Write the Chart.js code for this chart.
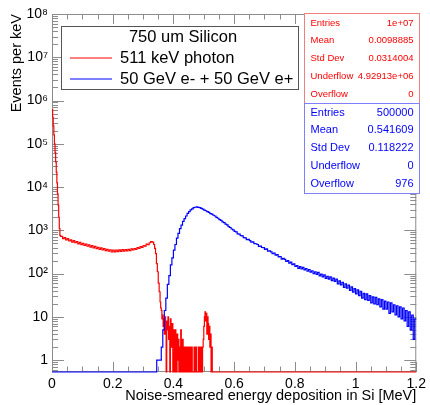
<!DOCTYPE html>
<html>
<head>
<meta charset="utf-8">
<script src="https://cdn.jsdelivr.net/npm/chart.js@4.4.0/dist/chart.umd.min.js"></script>
<style>
  html, body { margin: 0; padding: 0; background: #fff; }
  #histo { display: block; }
</style>
</head>
<body>
<canvas id="histo" width="430" height="405"></canvas>
<script>
// axis ranges and tick labels
const xMin = 0, xMax = 1.2;
const yMin = 0.53, yMax = 1e8;
const xTicks = [0, 0.2, 0.4, 0.6, 0.8, 1, 1.2];
const xTickLabels = ['0', '0.2', '0.4', '0.6', '0.8', '1', '1.2'];
const yTicks = [1, 10, 1e2, 1e3, 1e4, 1e5, 1e6, 1e7, 1e8];
const yTickLabels = ['1', '10', '10²', '10³', '10⁴', '10⁵', '10⁶', '10⁷', '10⁸'];

// 511 keV photon (red), in events per keV
const redSpikeStart = 0, redSpikeBin = 0.002;
const redSpikeY = [620000, 410000, 260000, 160000, 100000, 63000, 38000, 22000, 12500, 7000, 3800, 2000, 1100, 760, 720];
const redPlateauStart = 0.030, redPlateauBin = 0.005;
const redPlateauY = [
  720, 640, 680, 600, 640, 565, 600, 535, 575, 515,
  550, 485, 525, 468, 500, 445, 478, 428, 462, 410,
  440, 392, 425, 378, 405, 362, 392, 350, 378, 338,
  362, 328, 355, 315, 350, 318, 348, 320, 352, 324,
  356, 328, 356, 334, 362, 340, 370, 350, 378, 362,
  396, 382, 418, 402, 445, 430, 478, 468, 515, 545,
  530, 470
];
const redEdgeX = [0.338, 0.341, 0.344, 0.347, 0.350, 0.353, 0.356, 0.358];
const redEdgeY = [380, 290, 170, 110, 60, 38, 22, 16];
const redTailStart = 0.360, redTailBin = 0.002;
const redTailY = [
  14, 9, 11, 6, 9, 4, 10, 7, 0, 8,
  5, 10, 3, 6, 0, 9, 4, 2, 7, 0,
  5, 3, 0, 5, 2, 0, 4, 1, 3, 0,
  2, 0, 5, 2, 0, 3, 0, 2, 0, 1,
  2, 0, 0, 2, 0, 2, 0, 0, 2, 0,
  2, 0, 0, 0, 2, 0, 0, 2, 0, 0,
  0, 2, 0, 2, 0, 0, 2, 0, 2, 3,
  6, 10, 13, 8, 12, 4, 10, 7, 3, 6,
  2, 4, 0, 2, 0, 0
];

// 50 GeV e- + 50 GeV e+ (blue), in events per keV
const blueStart = 0.345, blueBin = 0.005;
const blueY = [
  1, 1, 1, 2, 5, 14, 27, 56, 90, 158,
  230, 348, 470, 660, 845, 1090, 1320, 1610, 1860, 2140,
  2460, 2690, 2960, 3140, 3330, 3410, 3470, 3400, 3340, 3200,
  3090, 2940, 2830, 2690, 2600, 2440, 2360, 2230, 2140, 1980,
  1900, 1770, 1700, 1560, 1500, 1390, 1330, 1210, 1160, 1070,
  1020, 940, 915, 830, 815, 750, 745, 680, 665, 610,
  615, 580, 535, 540, 490, 488, 470, 425, 432, 400,
  398, 362, 372, 330, 335, 318, 287, 298, 266, 275,
  243, 248, 216, 224, 212, 190, 198, 174, 183, 160,
  168, 146, 152, 132, 145, 128, 139, 122, 131, 113,
  124, 108, 116, 99, 110, 96, 106, 88, 97, 84,
  93, 77, 86, 74, 84, 69, 78, 66, 74, 58,
  68, 55, 63, 48, 58, 46, 54, 41, 49, 37,
  45, 34, 42, 31, 39, 27, 35, 25, 34, 24,
  31, 21, 29, 20, 28, 19, 26, 17, 25, 15,
  23, 15, 22, 12, 21, 13, 19, 11, 18, 10,
  17, 9, 16, 8, 14, 6, 13, 5, 11, 3,
  9
];

// legend and stat boxes
const legendTitle = '750 um Silicon';
const seriesNames = ['511 keV photon', '50 GeV e- + 50 GeV e+'];
const redStatLabels = ['Entries', 'Mean', 'Std Dev', 'Underflow', 'Overflow'];
const redStatValues = ['1e+07', '0.0098885', '0.0314004', '4.92913e+06', '0'];
const blueStatLabels = ['Entries', 'Mean', 'Std Dev', 'Underflow', 'Overflow'];
const blueStatValues = ['500000', '0.541609', '0.118222', '0', '976'];

// empty bins are drawn on the bottom edge, like ROOT does on a log axis
const floorOf = v => (v > 0 ? v : yMin);

const redPoints = [];
redSpikeY.forEach((v, i) => redPoints.push({ x: redSpikeStart + i * redSpikeBin, y: floorOf(v) }));
redPlateauY.forEach((v, i) => redPoints.push({ x: redPlateauStart + i * redPlateauBin, y: floorOf(v) }));
redEdgeY.forEach((v, i) => redPoints.push({ x: redEdgeX[i], y: floorOf(v) }));
redTailY.forEach((v, i) => redPoints.push({ x: redTailStart + i * redTailBin, y: floorOf(v) }));
redPoints.push({ x: xMax, y: yMin });

const bluePoints = [{ x: xMin, y: yMin }];
blueY.forEach((v, i) => bluePoints.push({ x: blueStart + i * blueBin, y: floorOf(v) }));
bluePoints.push({ x: xMax, y: blueY[blueY.length - 1] });

const axisGrey = '#8c8c8c';

const rootFrame = {
  id: 'rootFrame',
  beforeDatasetsDraw(chart) {
    const { ctx, chartArea: a, scales: { x, y } } = chart;
    ctx.save();
    ctx.strokeStyle = axisGrey;
    ctx.lineWidth = 1;
    ctx.strokeRect(a.left + 0.5, a.top + 0.5, a.right - a.left - 1, a.bottom - a.top - 1);
    ctx.beginPath();
    // x ticks, bottom and top
    for (let k = 0; k <= 24; k++) {
      const v = k * 0.05;
      const px = Math.round(x.getPixelForValue(v)) + 0.5;
      const len = k % 4 === 0 ? 10 : 5.5;
      ctx.moveTo(px, a.bottom); ctx.lineTo(px, a.bottom - len);
      ctx.moveTo(px, a.top); ctx.lineTo(px, a.top + len);
    }
    // y ticks, left and right
    for (let d = 0.1; d <= 1e8; d *= 10) {
      for (let m = 1; m <= 9; m++) {
        const v = m * d;
        if (v < yMin || v > yMax * 1.001) continue;
        const py = Math.round(y.getPixelForValue(v)) + 0.5;
        const len = m === 1 ? 12 : 6;
        ctx.moveTo(a.left, py); ctx.lineTo(a.left + len, py);
        ctx.moveTo(a.right, py); ctx.lineTo(a.right - len, py);
      }
    }
    ctx.stroke();
    ctx.restore();
  },
  afterDraw(chart) {
    const { ctx } = chart;
    ctx.save();
    // legend
    ctx.fillStyle = '#fff';
    ctx.fillRect(61.5, 26.5, 237, 63);
    ctx.strokeStyle = '#555';
    ctx.lineWidth = 1;
    ctx.strokeRect(61.5, 26.5, 237, 63);
    ctx.font = '16.5px "Liberation Sans", Arial, sans-serif';
    ctx.fillStyle = '#000';
    ctx.textBaseline = 'middle';
    ctx.textAlign = 'center';
    ctx.fillText(legendTitle, 183, 37);
    ctx.textAlign = 'left';
    ctx.fillText(seriesNames[0], 120, 58.5);
    ctx.fillText(seriesNames[1], 120, 79);
    ctx.lineWidth = 1;
    ctx.strokeStyle = '#ff0000';
    ctx.beginPath(); ctx.moveTo(70, 58); ctx.lineTo(112, 58); ctx.stroke();
    ctx.strokeStyle = '#0000ff';
    ctx.beginPath(); ctx.moveTo(70, 79); ctx.lineTo(112, 79); ctx.stroke();

    // stat boxes
    const statBox = (top, labels, values, text, border, size, y0) => {
      ctx.fillStyle = '#fff';
      ctx.fillRect(304.5, top, 115, 90);
      ctx.strokeStyle = border;
      ctx.strokeRect(304.5, top, 115, 90);
      ctx.font = size + 'px "Liberation Sans", Arial, sans-serif';
      ctx.fillStyle = text;
      labels.forEach((lab, i) => {
        const ty = y0 + i * 17.8;
        ctx.textAlign = 'left';
        ctx.fillText(lab, 310.5, ty);
        ctx.textAlign = 'right';
        ctx.fillText(values[i], 413.5, ty);
      });
    };
    statBox(13.5, redStatLabels, redStatValues, '#ff0000', '#f08080', 9.5, 23);
    statBox(103.5, blueStatLabels, blueStatValues, '#0000ff', '#8080ff', 11, 112.5);
    ctx.restore();
  }
};

Chart.defaults.font.family = '"Liberation Sans", Arial, sans-serif';
Chart.defaults.color = '#000';

const ctx = document.getElementById('histo').getContext('2d');
new Chart(ctx, {
  type: 'line',
  data: {
    datasets: [
      {
        label: seriesNames[1],
        data: bluePoints,
        borderColor: '#0000ff',
        borderWidth: 1.2,
        pointRadius: 0,
        stepped: 'before',
        clip: { left: 1, top: 1, right: 1, bottom: 2 }
      },
      {
        label: seriesNames[0],
        data: redPoints,
        borderColor: '#ff0000',
        borderWidth: 1.2,
        pointRadius: 0,
        stepped: 'before',
        clip: { left: 1, top: 1, right: 1, bottom: 2 }
      }
    ]
  },
  options: {
    responsive: false,
    animation: false,
    layout: { padding: { top: 14, right: 13, left: 0, bottom: 0 } },
    plugins: { legend: { display: false }, tooltip: { enabled: false } },
    scales: {
      x: {
        type: 'linear',
        min: xMin,
        max: xMax,
        grid: { display: false, drawTicks: false },
        border: { display: false },
        afterBuildTicks: s => { s.ticks = xTicks.map(v => ({ value: v })); },
        afterFit: s => { s.height = 33; },
        ticks: {
          autoSkip: false,
          maxRotation: 0,
          padding: 4,
          font: { size: 14 },
          callback: (v, i) => xTickLabels[i]
        },
        title: {
          display: true,
          text: 'Noise-smeared energy deposition in Si [MeV]',
          align: 'end',
          font: { size: 14.5 },
          padding: { top: 0, bottom: 0 }
        }
      },
      y: {
        type: 'logarithmic',
        min: yMin,
        max: yMax,
        grid: { display: false, drawTicks: false },
        border: { display: false },
        afterBuildTicks: s => { s.ticks = yTicks.map(v => ({ value: v })); },
        afterFit: s => { s.width = 52; },
        ticks: {
          autoSkip: false,
          padding: 4,
          font: { size: 14 },
          callback: (v, i) => yTickLabels[i]
        },
        title: {
          display: true,
          text: 'Events per keV',
          align: 'end',
          font: { size: 14.5 },
          padding: { top: 8, bottom: 0 }
        }
      }
    }
  },
  plugins: [rootFrame]
});
</script>
</body>
</html>
